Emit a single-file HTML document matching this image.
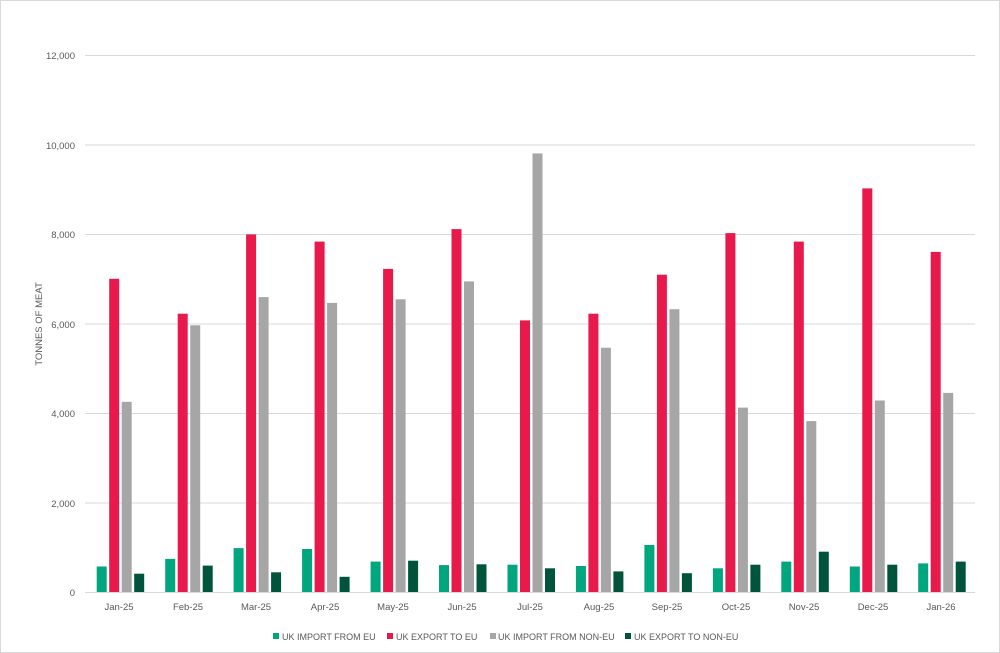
<!DOCTYPE html>
<html><head><meta charset="utf-8"><style>
html,body{margin:0;padding:0;background:#fff;}
svg{display:block;font-family:"Liberation Sans",sans-serif;}
</style></head><body>
<svg id="c" width="1000" height="653" viewBox="0 0 1000 653">
<rect x="0.5" y="0.5" width="999" height="652" fill="#fff" stroke="#d9d9d9"/>
<g stroke="#d9d9d9" stroke-width="1">
<line x1="85" x2="975" y1="55.5" y2="55.5"/>
<line x1="85" x2="975" y1="145" y2="145"/>
<line x1="85" x2="975" y1="234.5" y2="234.5"/>
<line x1="85" x2="975" y1="324" y2="324"/>
<line x1="85" x2="975" y1="413.5" y2="413.5"/>
<line x1="85" x2="975" y1="503" y2="503"/>
</g>
<g id="bars"></g>
<line x1="85" x2="975" y1="592.5" y2="592.5" stroke="#d9d9d9"/>
<g font-size="9.5" fill="#595959" text-anchor="end">
<text x="75" y="59">12,000</text>
<text x="75" y="149">10,000</text>
<text x="75" y="238">8,000</text>
<text x="75" y="328">6,000</text>
<text x="75" y="417">4,000</text>
<text x="75" y="507">2,000</text>
<text x="75" y="596">0</text>
</g>
<text transform="translate(42,324) rotate(-90)" font-size="9.5" fill="#595959" text-anchor="middle">TONNES OF MEAT</text>
<g font-size="9.5" fill="#595959" text-anchor="middle">
<text x="119" y="610">Jan-25</text>
<text x="188" y="610">Feb-25</text>
<text x="256" y="610">Mar-25</text>
<text x="325" y="610">Apr-25</text>
<text x="393" y="610">May-25</text>
<text x="462" y="610">Jun-25</text>
<text x="530" y="610">Jul-25</text>
<text x="599" y="610">Aug-25</text>
<text x="667" y="610">Sep-25</text>
<text x="736" y="610">Oct-25</text>
<text x="804" y="610">Nov-25</text>
<text x="873" y="610">Dec-25</text>
<text x="941" y="610">Jan-26</text>
</g>
<g font-size="9" fill="#595959">
<rect x="273" y="633" width="6" height="6" fill="#00a67e"/><text x="282" y="640">UK IMPORT FROM EU</text>
<rect x="387" y="633" width="6" height="6" fill="#e8194b"/><text x="396" y="640">UK EXPORT TO EU</text>
<rect x="490" y="633" width="6" height="6" fill="#a6a6a6"/><text x="498" y="640">UK IMPORT FROM NON-EU</text>
<rect x="625" y="633" width="6" height="6" fill="#00543c"/><text x="634" y="640">UK EXPORT TO NON-EU</text>
</g>
</svg>
<script>
var d=[[570,7000,4250,410],[740,6220,5960,590],[980,7990,6590,440],[960,7830,6460,340],[680,7220,6540,700],[600,8110,6940,620],[610,6070,9800,530],[580,6220,5460,460],[1050,7090,6320,420],[530,8020,4120,610],[680,7830,3820,900],[570,9020,4280,610],[640,7600,4450,680]];
var col=["#00a67e","#e8194b","#a6a6a6","#00543c"];
var g=document.getElementById("bars"),s="";
for(var i=0;i<13;i++){var c=85+68.46*(i+0.5);for(var j=0;j<4;j++){var h=d[i][j]*537/12000;var x=c-22.5+12.5*j;s+='<rect x="'+x.toFixed(1)+'" y="'+(592-h).toFixed(1)+'" width="10" height="'+h.toFixed(1)+'" fill="'+col[j]+'"/>';}}
g.innerHTML=s;
</script>
</body></html>
